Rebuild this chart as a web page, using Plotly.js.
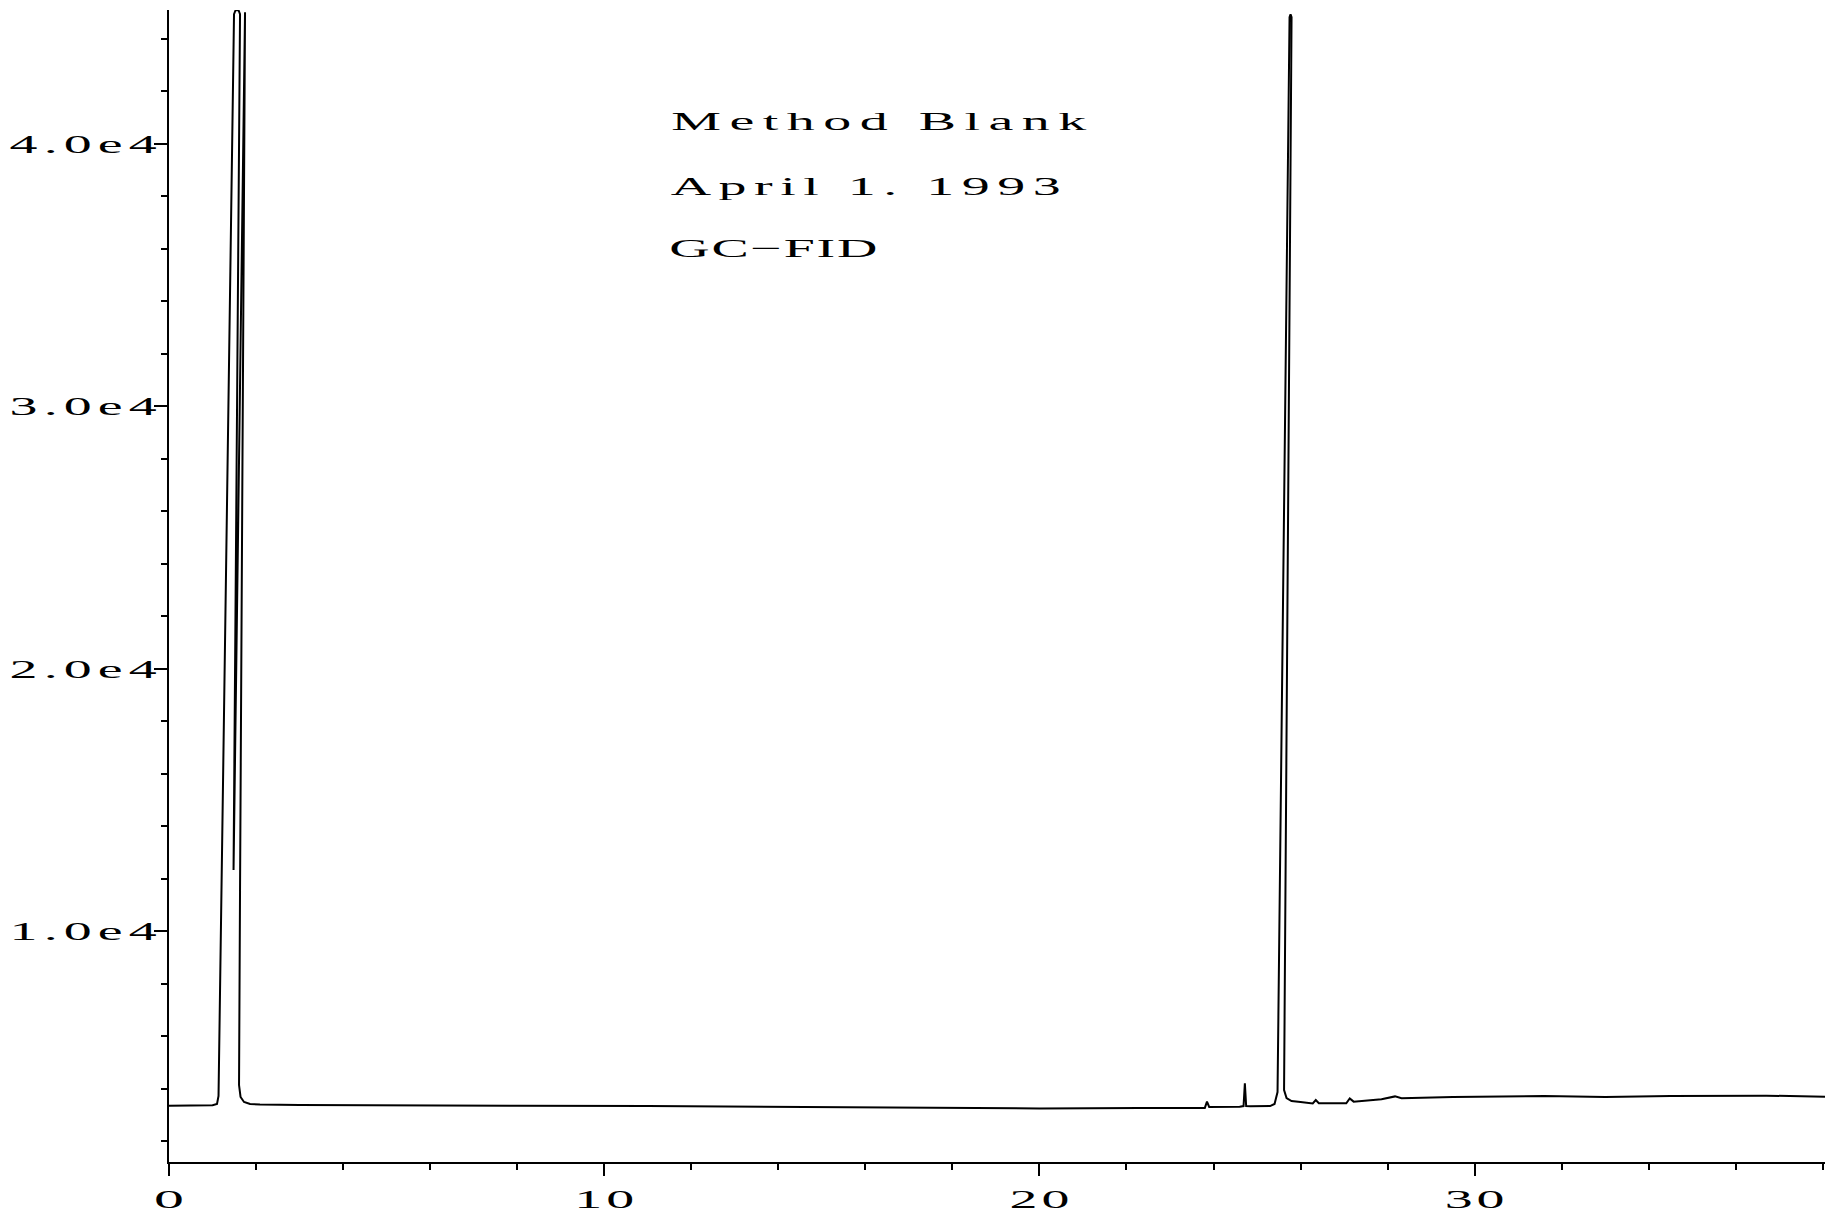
<!DOCTYPE html>
<html>
<head>
<meta charset="utf-8">
<script src="https://cdn.plot.ly/plotly-3.0.1.min.js"></script>
<style>
  html, body { margin: 0; padding: 0; background: #ffffff; }
  #chart { width: 1829px; height: 1217px; }
</style>
</head>
<body>
<div id="chart"></div>
<script>
// ---- data (retention time in minutes, detector signal) ----
const timeMin = [
  0.00, 0.60, 1.00, 1.103, 1.138, 1.494, 1.529, 1.598, 1.632, 1.483,
  1.747, 1.632, 1.609, 1.644, 1.724, 1.862, 2.09, 3.0, 5.0, 8.0,
  11.0, 14.0, 17.0, 20.0, 22.3, 23.6, 23.80, 23.85, 23.90, 24.60,
  24.69, 24.72, 24.75, 24.85, 25.30, 25.402, 25.471, 25.747, 25.770, 25.793,
  25.621, 25.678, 25.793, 25.999, 26.28, 26.35, 26.42, 27.05, 27.13, 27.22,
  27.86, 28.17, 28.32, 29.5, 30.6, 31.6, 33.0, 34.5, 36.7, 38.05
];
const signal = [
  3340, 3340, 3360, 3410, 3715, 44940, 45090, 45090, 44940, 12325,
  45015, 11560, 4134, 3677, 3486, 3410, 3390, 3370, 3350, 3340,
  3330, 3300, 3270, 3240, 3260, 3250, 3260, 3500, 3300, 3310,
  3330, 4200, 3330, 3320, 3330, 3410, 3867, 44825, 44940, 44825,
  3943, 3638, 3524, 3486, 3430, 3560, 3440, 3440, 3625, 3500,
  3590, 3700, 3630, 3675, 3690, 3715, 3676, 3715, 3728, 3690
];

const xTickVals = [0, 10, 20, 30];
const xTickText = ["0", "10", "20", "30"];
const yTickVals = [10000, 20000, 30000, 40000];
const yTickText = ["1.0e4", "2.0e4", "3.0e4", "4.0e4"];
const noteLines = ["Method Blank", "April 1. 1993", "GC\u2212FID"];

// ---- styling ----
const FONT = "Liberation Serif, Times New Roman, serif";
const notePos = [ {x: 0.4290, y: 0.9036, w: 415},
                  {x: 0.4203, y: 0.8464, w: 390},
                  {x: 0.3653, y: 0.7930, w: 208} ];

const trace = {
  type: "scatter",
  mode: "lines",
  x: timeMin,
  y: signal,
  line: {color: "#000000", width: 2, shape: "linear"},
  hoverinfo: "skip",
  showlegend: false
};

const layout = {
  width: 1829,
  height: 1217,
  margin: {l: 169, r: 4, t: 10, b: 55},
  paper_bgcolor: "#ffffff",
  plot_bgcolor: "#ffffff",
  showlegend: false,
  font: {family: FONT, size: 26, color: "#000000"},
  xaxis: {
    range: [0, 38.05],
    showgrid: false,
    zeroline: false,
    showline: true,
    linecolor: "#000000",
    linewidth: 2,
    ticks: "outside",
    ticklen: 12,
    tickwidth: 2,
    tickcolor: "#000000",
    tickmode: "array",
    tickvals: xTickVals,
    ticktext: xTickText,
    tickfont: {family: FONT, size: 26, color: "#000000"},
    ticklabelstandoff: 1,
    minor: {tickmode: "linear", tick0: 0, dtick: 2, ticks: "outside", ticklen: 6, tickwidth: 2, tickcolor: "#000000", showgrid: false}
  },
  yaxis: {
    range: [1200, 45100],
    showgrid: false,
    zeroline: false,
    showline: true,
    linecolor: "#000000",
    linewidth: 2,
    ticks: "outside",
    ticklen: 13,
    tickwidth: 2,
    tickcolor: "#000000",
    tickmode: "array",
    tickvals: yTickVals,
    ticktext: yTickText,
    tickfont: {family: FONT, size: 26, color: "#000000"},
    ticklabelstandoff: -8,
    minor: {tickmode: "linear", tick0: 0, dtick: 2000, ticks: "outside", ticklen: 6, tickwidth: 2, tickcolor: "#000000", showgrid: false}
  },
  annotations: noteLines.map(function (t, i) {
    return {
      text: t, xref: "paper", yref: "paper",
      x: notePos[i].x, y: notePos[i].y,
      xanchor: "center", yanchor: "middle",
      showarrow: false,
      font: {family: FONT, size: 26, color: "#000000"}
    };
  })
};

// The original plotter font is wide and thin: widen each label partly by
// stretching glyphs (factor g) and partly by letter spacing, to a total ink width.
const GLYPH_STRETCH = 2.15;
function widen(node, inkWidth, anchor) {
  var w0 = node.getComputedTextLength();
  if (!(w0 > 0)) return;
  var n = node.textContent.length;
  var g = GLYPH_STRETCH;
  var s = 0, total;
  if (n > 1) {
    g = Math.min(g, inkWidth / w0);
    s = (inkWidth - g * w0) / (g * (n - 1));
    total = inkWidth + s * g;
  } else {
    g = inkWidth / w0;
    total = inkWidth;
  }
  node.style.letterSpacing = s.toFixed(3) + "px";
  node.setAttribute("textLength", total.toFixed(2));
  node.setAttribute("lengthAdjust", "spacingAndGlyphs");
  var trail = s * g;
  var shift = anchor === "end" ? trail : (anchor === "middle" ? trail / 2 : 0);
  var x0 = parseFloat(node.getAttribute("x") || "0");
  node.setAttribute("x", (x0 + shift).toFixed(2));
}

Plotly.newPlot("chart", [trace], layout, {staticPlot: true, displayModeBar: false}).then(function (gd) {
  gd.querySelectorAll(".ytick text").forEach(function (n) {
    widen(n, n.getComputedTextLength() * 2.58, "end");
  });
  gd.querySelectorAll(".xtick text").forEach(function (n) {
    widen(n, n.getComputedTextLength() * 2.3, "middle");
  });
  gd.querySelectorAll(".annotation-text").forEach(function (n, i) {
    if (notePos[i]) widen(n, notePos[i].w, "middle");
  });
});
</script>
</body>
</html>
